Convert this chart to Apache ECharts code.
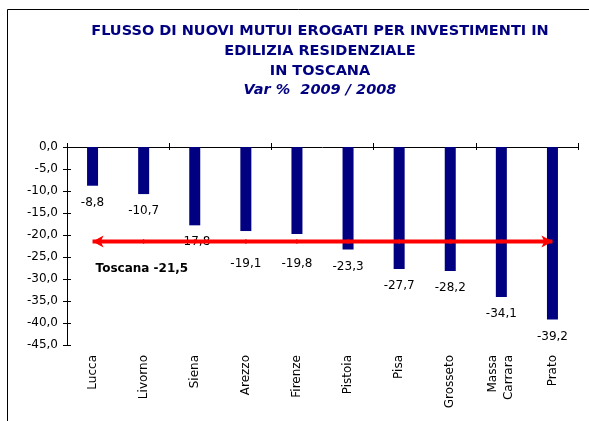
<!DOCTYPE html>
<html>
<head>
<meta charset="utf-8">
<script src="https://cdn.jsdelivr.net/npm/echarts@6/dist/echarts.min.js"></script>
<style>
  html, body { margin: 0; padding: 0; background: #fff; }
  #chart-container { width: 589px; height: 421px; }
</style>
</head>
<body>
<div id="chart-container"></div>
<script>
var provinces = ['Lucca', 'Livorno', 'Siena', 'Arezzo', 'Firenze', 'Pistoia', 'Pisa', 'Grosseto', 'Massa\nCarrara', 'Prato'];
var variations = [-8.8, -10.7, -17.8, -19.1, -19.8, -23.3, -27.7, -28.2, -34.1, -39.2];
var toscanaLabel = 'Toscana';
var toscanaValue = -21.5;
var yTicks = { min: -45, max: 0, interval: 5 };

var FONT = 'DejaVu Sans';
var NAVY = '#000080';
var GRID = { left: 67, right: 11, top: 147, bottom: 76 };
var pxPerUnit = (421 - GRID.top - GRID.bottom) / (yTicks.max - yTicks.min);

function fmt(v, d) {
  return v.toFixed(d).replace('.', ',');
}

var dom = document.getElementById('chart-container');
var myChart = echarts.init(dom, null, { renderer: 'canvas' });

// bar labels that would sit on the red line are pushed below it
var barData = variations.map(function (v) {
  var item = { value: v };
  var gap = v - toscanaValue;
  if (gap > 0 && gap < 3) {
    item.label = { offset: [0, gap * pxPerUnit + 5] };
  }
  return item;
});

// reference line: one point per province, arrows at both ends
var lineData = provinces.map(function (p, i) {
  var item = { value: toscanaValue };
  if (i === 0) {
    item.symbol = 'arrow';
    item.symbolRotate = 90;
    item.symbolSize = [9, 11];
  } else if (i === provinces.length - 1) {
    item.symbol = 'arrow';
    item.symbolRotate = -90;
    item.symbolSize = [9, 11];
  }
  return item;
});

var option = {
  backgroundColor: '#fff',
  animation: false,
  textStyle: { fontFamily: FONT },
  title: {
    text: 'FLUSSO DI NUOVI MUTUI EROGATI PER INVESTIMENTI IN\nEDILIZIA RESIDENZIALE\nIN TOSCANA',
    subtext: 'Var %  2009 / 2008',
    left: 315,
    top: 16,
    textAlign: 'center',
    itemGap: 0,
    textStyle: { fontFamily: FONT, fontSize: 14.5, fontWeight: 'bold', color: NAVY, lineHeight: 20 },
    subtextStyle: { fontFamily: FONT, fontSize: 14.5, fontWeight: 'bold', fontStyle: 'italic', color: NAVY, lineHeight: 19 }
  },
  graphic: [{
    type: 'rect',
    shape: { x: 7.5, y: 9.5, width: 700, height: 600 },
    style: { fill: 'none', stroke: '#000', lineWidth: 1 },
    silent: true
  }],
  grid: GRID,
  xAxis: [
    {
      type: 'category',
      data: provinces,
      position: 'bottom',
      axisLine: { show: false, onZero: false },
      axisTick: { show: false },
      axisLabel: { rotate: 90, margin: 10, fontSize: 12, color: '#000', fontFamily: FONT, lineHeight: 16 }
    },
    {
      type: 'category',
      data: provinces,
      position: 'top',
      axisLine: { show: true, onZero: false, lineStyle: { color: '#000', width: 1 } },
      axisTick: { show: true, inside: false, length: 4, lineStyle: { color: '#000' } },
      axisLabel: { show: false }
    },
    {
      type: 'category',
      data: provinces,
      position: 'top',
      axisLine: { show: false, onZero: false },
      axisTick: { show: true, inside: true, length: 3, lineStyle: { color: '#000' } },
      axisLabel: { show: false }
    }
  ],
  yAxis: [
    {
      type: 'value',
      min: yTicks.min,
      max: yTicks.max,
      interval: yTicks.interval,
      axisLine: { show: true, lineStyle: { color: '#000' } },
      axisTick: { show: true, length: 4, lineStyle: { color: '#000' } },
      splitLine: { show: false },
      axisLabel: {
        margin: 9, fontSize: 12, color: '#000', fontFamily: FONT,
        formatter: function (v) { return fmt(v, 1); }
      }
    },
    {
      type: 'value',
      min: yTicks.min,
      max: yTicks.max,
      interval: yTicks.interval,
      position: 'left',
      axisLine: { show: false },
      axisTick: { show: true, inside: true, length: 4, lineStyle: { color: '#000' } },
      splitLine: { show: false },
      axisLabel: { show: false }
    }
  ],
  series: [
    {
      type: 'bar',
      data: barData,
      barWidth: 11,
      itemStyle: { color: NAVY },
      label: {
        show: true,
        position: 'bottom',
        distance: 11,
        fontSize: 12,
        color: '#000',
        fontFamily: FONT,
        formatter: function (p) { return fmt(p.value, 1); }
      },
      z: 2
    },
    {
      type: 'line',
      data: lineData,
      symbol: 'diamond',
      symbolSize: 5,
      lineStyle: { color: '#ff0000', width: 4 },
      itemStyle: { color: '#ff0000' },
      z: 3,
      markPoint: {
        symbol: 'circle',
        symbolSize: 0,
        data: [{
          coord: [0, toscanaValue],
          label: {
            show: true,
            position: 'inside',
            align: 'left',
            verticalAlign: 'middle',
            offset: [3, 27],
            fontSize: 12,
            fontWeight: 'bold',
            color: '#000',
            fontFamily: FONT,
            formatter: toscanaLabel + ' ' + fmt(toscanaValue, 1)
          }
        }]
      }
    }
  ]
};

myChart.setOption(option);
window.addEventListener('resize', myChart.resize);
</script>
</body>
</html>
